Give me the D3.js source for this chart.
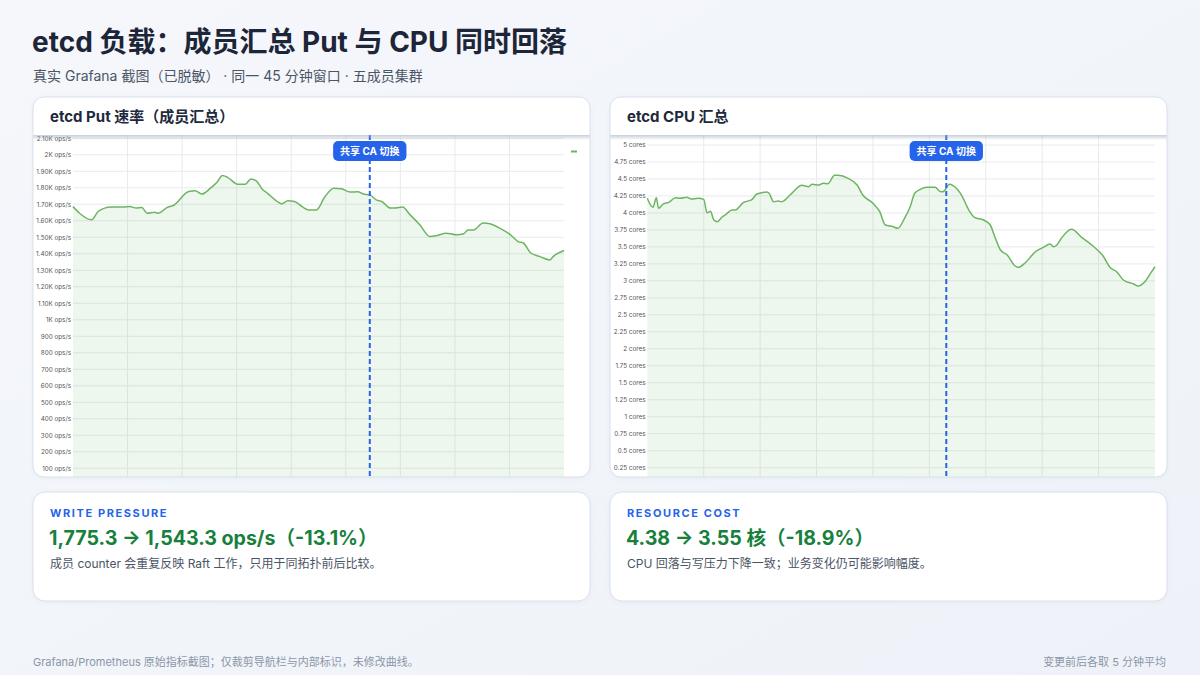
<!DOCTYPE html>
<html><head><meta charset="utf-8">
<script src="https://cdn.jsdelivr.net/npm/d3@7"></script>
<style>
html,body{margin:0;padding:0;width:1200px;height:675px;overflow:hidden;background:#f2f5fa;}
svg{display:block;}
</style></head><body><svg id="c" width="1200" height="675"></svg>
<script>
// ---------- DATA ----------
const pageTitle = "etcd 负载：成员汇总 Put 与 CPU 同时回落";
const pageSubtitle = "真实 Grafana 截图（已脱敏） · 同一 45 分钟窗口 · 五成员集群";
const panelTitles = ["etcd Put 速率（成员汇总）", "etcd CPU 汇总"];
const eventLabel = "共享 CA 切换";
const putEventTime = 27.2;
const cpuEventTime = 26.5;
const timeTicks = [0, 5, 10, 15, 20, 25, 30, 35, 40, 45];

const putTimes = [0.0,0.6,1.7,2.3,2.9,3.5,4.6,5.2,5.8,6.3,6.8,7.5,7.8,8.6,9.2,10.6,11.2,11.8,12.6,13.2,13.7,14.2,15.1,15.8,16.3,16.8,17.4,17.8,18.8,19.1,19.7,20.3,21.0,21.6,22.3,23.1,23.9,24.6,25.4,26.1,26.6,27.2,27.8,28.3,29.1,29.5,30.2,30.9,31.8,32.7,33.3,34.2,35.2,35.8,36.2,36.7,37.6,38.2,39.1,40.1,40.8,41.3,41.9,42.8,43.7,44.0,45.0];
const putValues = [1686,1646,1606,1656,1677,1683,1683,1686,1677,1680,1646,1652,1646,1680,1693,1777,1782,1762,1798,1834,1875,1862,1822,1822,1854,1842,1788,1768,1713,1703,1721,1717,1686,1666,1666,1747,1798,1794,1774,1776,1763,1757,1727,1717,1677,1677,1683,1636,1575,1505,1509,1525,1515,1521,1545,1545,1586,1582,1556,1515,1474,1464,1408,1383,1363,1383,1420];
const putTicks = [100,200,300,400,500,600,700,800,900,1000,1100,1200,1300,1400,1500,1600,1700,1800,1900,2000,2100];
const putTickLabels = ["100 ops/s","200 ops/s","300 ops/s","400 ops/s","500 ops/s","600 ops/s","700 ops/s","800 ops/s","900 ops/s","1K ops/s","1.10K ops/s","1.20K ops/s","1.30K ops/s","1.40K ops/s","1.50K ops/s","1.60K ops/s","1.70K ops/s","1.80K ops/s","1.90K ops/s","2K ops/s","2.10K ops/s"];

const cpuTimes = [0.0,0.5,0.8,1.0,1.4,1.9,2.5,2.9,3.5,3.9,4.5,5.0,5.3,5.6,5.9,6.2,6.6,7.0,7.5,7.8,8.5,9.3,9.7,10.6,10.8,11.2,11.6,11.9,12.8,13.7,14.3,14.6,15.2,15.6,16.0,16.6,16.9,17.8,18.6,19.1,20.0,20.6,21.1,21.8,22.2,22.8,23.3,23.7,24.2,24.8,25.5,26.0,26.2,26.8,27.1,27.9,28.5,29.0,29.8,30.4,30.8,31.3,31.9,32.6,32.9,33.5,34.4,35.1,35.7,36.0,36.3,36.7,37.6,38.5,39.5,40.4,41.0,41.6,42.2,43.1,43.5,44.1,44.6,45.0];
const cpuValues = [4.215,4.083,4.224,4.068,4.131,4.156,4.224,4.215,4.23,4.205,4.215,4.20,4.003,4.024,3.896,3.871,3.936,3.984,4.043,4.043,4.151,4.20,4.279,4.308,4.289,4.165,4.176,4.165,4.289,4.407,4.386,4.421,4.411,4.436,4.43,4.554,4.554,4.510,4.411,4.264,4.142,4.018,3.822,3.797,3.773,3.921,4.092,4.289,4.348,4.377,4.377,4.313,4.313,4.421,4.401,4.249,4.043,3.936,3.896,3.822,3.65,3.454,3.381,3.219,3.20,3.267,3.429,3.494,3.543,3.503,3.528,3.627,3.759,3.641,3.513,3.366,3.20,3.135,3.013,2.954,2.924,2.988,3.11,3.208];
const cpuTicks = [0.25,0.5,0.75,1,1.25,1.5,1.75,2,2.25,2.5,2.75,3,3.25,3.5,3.75,4,4.25,4.5,4.75,5];
const cpuTickLabels = ["0.25 cores","0.5 cores","0.75 cores","1 cores","1.25 cores","1.5 cores","1.75 cores","2 cores","2.25 cores","2.5 cores","2.75 cores","3 cores","3.25 cores","3.5 cores","3.75 cores","4 cores","4.25 cores","4.5 cores","4.75 cores","5 cores"];

const cardKickers = ["WRITE PRESSURE", "RESOURCE COST"];
const cardValues = ["1,775.3 → 1,543.3 ops/s（-13.1%）", "4.38 → 3.55 核（-18.9%）"];
const cardNotes = ["成员 counter 会重复反映 Raft 工作，只用于同拓扑前后比较。", "CPU 回落与写压力下降一致；业务变化仍可能影响幅度。"];
const footLeft = "Grafana/Prometheus 原始指标截图；仅裁剪导航栏与内部标识，未修改曲线。";
const footRight = "变更前后各取 5 分钟平均";

// ---------- DRAW ----------
const FONT = "Inter, 'Noto Sans CJK SC', 'Noto Sans', sans-serif";
const svg = d3.select("#c");
const defs = svg.append("defs");

const bg = defs.append("linearGradient").attr("id","bg").attr("x1","0").attr("y1","0").attr("x2","1").attr("y2","1");
bg.append("stop").attr("offset","0").attr("stop-color","#f5f7fb");
bg.append("stop").attr("offset","1").attr("stop-color","#eef2f8");
svg.append("rect").attr("width",1200).attr("height",675).attr("fill","url(#bg)");

const sh = defs.append("linearGradient").attr("id","hs").attr("x1","0").attr("y1","0").attr("x2","0").attr("y2","1");
sh.append("stop").attr("offset","0").attr("stop-color","#9aa6b8").attr("stop-opacity",0.55);
sh.append("stop").attr("offset","1").attr("stop-color","#9aa6b8").attr("stop-opacity",0);

const flt = defs.append("filter").attr("id","cs").attr("x","-5%").attr("y","-5%").attr("width","110%").attr("height","115%");
flt.append("feDropShadow").attr("dx",0).attr("dy",1).attr("stdDeviation",2).attr("flood-color","#94a3b8").attr("flood-opacity",0.12);

svg.append("text").attr("x",32).attr("y",52).attr("font-family",FONT).attr("font-size",28).attr("font-weight",700)
  .attr("fill","#1c2638").text(pageTitle);
svg.append("text").attr("x",33).attr("y",81).attr("font-family",FONT).attr("font-size",14)
  .attr("fill","#4b5565").text(pageSubtitle);

function roundedPath(x, y, w, h, r) {
  const p = d3.path();
  p.moveTo(x + r, y); p.lineTo(x + w - r, y); p.arcTo(x + w, y, x + w, y + r, r);
  p.lineTo(x + w, y + h - r); p.arcTo(x + w, y + h, x + w - r, y + h, r);
  p.lineTo(x + r, y + h); p.arcTo(x, y + h, x, y + h - r, r);
  p.lineTo(x, y + r); p.arcTo(x, y, x + r, y, r); p.closePath();
  return p.toString();
}

const panels = [
  {id:"p0", cx:33, cw:557, title:panelTitles[0], times:putTimes, values:putValues, ticks:putTicks, labels:putTickLabels,
   yDom:[100,2100], yRng:[468.3,138.3], px:[73,564], lblX:71, ev:putEventTime, legend:true},
  {id:"p1", cx:610, cw:557, title:panelTitles[1], times:cpuTimes, values:cpuValues, ticks:cpuTicks, labels:cpuTickLabels,
   yDom:[0.25,5], yRng:[467.7,145], px:[647.3,1155], lblX:645.5, ev:cpuEventTime, legend:false}
];

const cy = 97, ch = 380, headH = 38;

panels.forEach(P => {
  const g = svg.append("g");
  const cardD = roundedPath(P.cx, cy, P.cw, ch, 11);
  g.append("path").attr("d", cardD).attr("fill","#ffffff").attr("filter","url(#cs)");
  defs.append("clipPath").attr("id","clip"+P.id).append("path").attr("d", cardD);

  const shot = g.append("g").attr("clip-path","url(#clip"+P.id+")");
  const top = cy + headH;
  const x = d3.scaleLinear().domain([0,45]).range(P.px);
  const y = d3.scaleLinear().domain(P.yDom).range(P.yRng);

  // grid
  shot.selectAll("line.h").data(P.ticks).join("line")
    .attr("x1",P.px[0]).attr("x2",P.px[1]).attr("y1",d=>y(d)).attr("y2",d=>y(d))
    .attr("stroke","#e8eaed").attr("stroke-width",1);
  shot.selectAll("line.v").data(timeTicks.slice(1,-1)).join("line")
    .attr("x1",d=>x(d)).attr("x2",d=>x(d)).attr("y1",top).attr("y2",cy+ch)
    .attr("stroke","#e8eaed").attr("stroke-width",1);

  // tick labels
  shot.selectAll("text.t").data(P.ticks).join("text")
    .attr("x",P.lblX).attr("y",d=>y(d)).attr("dy","0.35em").attr("text-anchor","end")
    .attr("font-family",FONT).attr("font-size",6.3).attr("fill","#4f5359")
    .text((d,i)=>P.labels[i]);

  const pts = P.times.map((t,i)=>[t,P.values[i]]);
  const area = d3.area().x(d=>x(d[0])).y0(y.range()[0] + 30).y1(d=>y(d[1])).curve(d3.curveMonotoneX);
  const line = d3.line().x(d=>x(d[0])).y(d=>y(d[1])).curve(d3.curveMonotoneX);
  shot.append("path").datum(pts).attr("d",area).attr("fill","#73bf69").attr("fill-opacity",0.12);
  shot.append("path").datum(pts).attr("d",line).attr("fill","none").attr("stroke","#6db562").attr("stroke-width",1.5)
    .attr("stroke-linejoin","round");

  if (P.legend) {
    shot.append("line").attr("x1",P.px[1]+7).attr("x2",P.px[1]+13).attr("y1",151.5).attr("y2",151.5)
      .attr("stroke","#6db562").attr("stroke-width",2);
  }

  // event marker
  const ex = x(P.ev);
  shot.append("line").attr("x1",ex).attr("x2",ex).attr("y1",top).attr("y2",cy+ch)
    .attr("stroke","#2563eb").attr("stroke-width",2).attr("stroke-dasharray","5,3");
  const lbl = shot.append("g");
  const tx = lbl.append("text").attr("x",ex).attr("y",151).attr("dy","0.35em").attr("text-anchor","middle")
    .attr("font-family",FONT).attr("font-size",10).attr("font-weight",700).attr("fill","#ffffff").text(eventLabel);
  const bw = tx.node().getComputedTextLength() + 14;
  lbl.insert("rect","text").attr("x",ex-bw/2).attr("y",141).attr("width",bw).attr("height",20).attr("rx",5)
    .attr("fill","#2563eb");

  // header
  shot.append("rect").attr("x",P.cx).attr("y",cy).attr("width",P.cw).attr("height",headH).attr("fill","#ffffff");
  shot.append("rect").attr("x",P.cx).attr("y",top).attr("width",P.cw).attr("height",5).attr("fill","url(#hs)");
  g.append("text").attr("x",P.cx+17).attr("y",cy+20).attr("dy","0.35em")
    .attr("font-family",FONT).attr("font-size",15).attr("font-weight",700).attr("fill","#1e293b").text(P.title);
  g.append("path").attr("d", cardD).attr("fill","none").attr("stroke","#d9e1ec").attr("stroke-width",1);
});

// bottom cards
[33, 610].forEach((cx, i) => {
  const g = svg.append("g");
  g.append("path").attr("d", roundedPath(cx, 492, 557, 109, 12)).attr("fill","#ffffff")
    .attr("stroke","#d9e1ec").attr("stroke-width",1).attr("filter","url(#cs)");
  g.append("text").attr("x",cx+17).attr("y",517).attr("font-family",FONT).attr("font-size",11).attr("font-weight",700)
    .attr("letter-spacing",1.6).attr("fill","#2563eb").text(cardKickers[i]);
  g.append("text").attr("x",cx+16).attr("y",545).attr("font-family",FONT).attr("font-size",19.6).attr("font-weight",700)
    .attr("fill","#17803d").text(cardValues[i]);
  g.append("text").attr("x",cx+17).attr("y",568).attr("font-family",FONT).attr("font-size",12)
    .attr("fill","#4b5565").text(cardNotes[i]);
});

svg.append("text").attr("x",33).attr("y",666).attr("font-family",FONT).attr("font-size",11)
  .attr("fill","#8b96a8").text(footLeft);
svg.append("text").attr("x",1166).attr("y",666).attr("text-anchor","end").attr("font-family",FONT).attr("font-size",11)
  .attr("fill","#8b96a8").text(footRight);
</script></body></html>
